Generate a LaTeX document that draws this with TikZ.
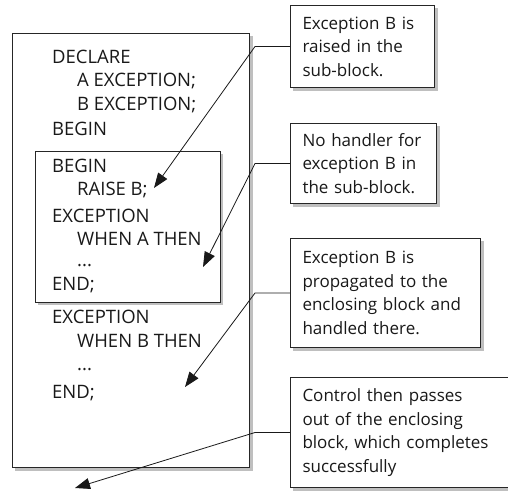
\documentclass[tikz,border=0pt]{standalone}
\usepackage{fontspec}
\setmainfont{Open Sans}
\usetikzlibrary{backgrounds,calc,arrows.meta}
\begin{document}
\begin{tikzpicture}[x=1pt,y=-1pt,
  code/.style={anchor=base west, inner sep=0pt, text=black!90, font=\fontsize{18.5}{22}\selectfont},
  shadowfill/.style={fill=black!25},
  frame/.style={draw=black!85, line width=1pt, fill=white},
  note/.style={draw=black!85, line width=1pt, fill=white, anchor=north west, inner xsep=12pt, inner ysep=0pt,
    align=left, text=black!90, font=\fontsize{17}{23.5}\selectfont},
  callout/.style={line width=0.8pt, black!90, -{Triangle[length=15pt,width=11pt]}}
]
\useasboundingbox (0,0) rectangle (508,490);
% frames with shadows
\fill[shadowfill] (15,36) rectangle (252.5,470.5);
\draw[frame] (12,33) rectangle (249,467);
\fill[shadowfill] (38,154) rectangle (223,305);
\draw[frame] (35,151) rectangle (220,302);
% code lines
\node[code] (c1) at (52,63) {DECLARE};
\node[code] (c2) at (77,86) {A EXCEPTION;};
\node[code] (c3) at (77,110) {B EXCEPTION;};
\node[code] (c4) at (52,135) {BEGIN};
\node[code] (c5) at (52,172) {BEGIN};
\node[code] (c6) at (77,195) {RAISE B;};
\node[code] (c7) at (52,222) {EXCEPTION};
\node[code] (c8) at (77,245) {WHEN A THEN};
\node[code] (c9) at (77,266) {...};
\node[code] (c10) at (52,290) {END;};
\node[code] (c11) at (52,323) {EXCEPTION};
\node[code] (c12) at (77,347) {WHEN B THEN};
\node[code] (c13) at (77,370) {...};
\node[code] (c14) at (52,398) {END;};
% notes
\node[note, text width=120pt, minimum height=82pt] (n1) at (290,5) {\mbox{Exception B is}\\\mbox{raised in the}\\\mbox{sub-block.}};
\node[note, text width=122pt, minimum height=80pt] (n2) at (290,123) {\mbox{No handler for}\\\mbox{exception B in}\\\mbox{the sub-block.}};
\node[note, text width=166pt, minimum height=109pt] (n3) at (290,238) {\mbox{Exception B is}\\\mbox{propagated to the}\\\mbox{enclosing block and}\\\mbox{handled there.}};
\node[note, text width=196pt, minimum height=110pt] (n4) at (290,377) {\mbox{Control then passes}\\\mbox{out of the enclosing}\\\mbox{block, which completes}\\\mbox{successfully}};
\begin{scope}[on background layer]
  \foreach \n in {n1,n2,n3,n4}
    \fill[shadowfill] ($(\n.south west)+(3,3)$) rectangle ($(\n.north east)+(3,3)$);
\end{scope}
% connectors
\coordinate (bx) at (255,0);
\coordinate (t1) at (154,188);
\coordinate (t2) at (203,267);
\coordinate (t3) at (185,387);
\coordinate (t4) at (75,488);
\draw[callout] (n1.west) -- (n1.west -| bx) -- (t1);
\draw[callout] (n2.west) -- (n2.west -| bx) -- (t2);
\draw[callout] (n3.west) -- (n3.west -| bx) -- (t3);
\draw[callout] (n4.west) -- (n4.west -| bx) -- (t4);
\end{tikzpicture}
\end{document}
